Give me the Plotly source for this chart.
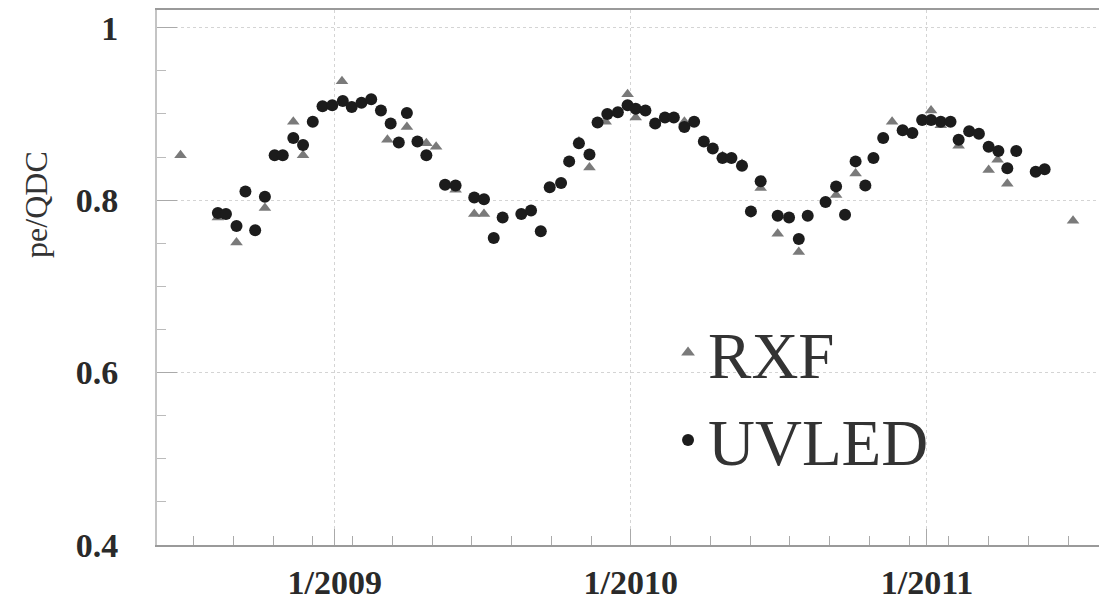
import plotly.graph_objects as go

# UVLED (black circles)
uvled_dates = [
    "2008-08-10", "2008-08-20", "2008-09-02", "2008-09-13", "2008-09-25", "2008-10-07",
    "2008-10-19", "2008-10-29", "2008-11-11", "2008-11-23", "2008-12-05", "2008-12-17",
    "2008-12-29", "2009-01-11", "2009-01-22", "2009-02-03", "2009-02-15", "2009-02-27",
    "2009-03-11", "2009-03-21", "2009-03-31", "2009-04-13", "2009-04-24", "2009-05-17",
    "2009-05-30", "2009-06-22", "2009-07-04", "2009-07-16", "2009-07-27", "2009-08-19",
    "2009-08-31", "2009-09-12", "2009-09-23", "2009-10-07", "2009-10-17", "2009-10-29",
    "2009-11-11", "2009-11-21", "2009-12-03", "2009-12-16", "2009-12-28", "2010-01-07",
    "2010-01-19", "2010-01-31", "2010-02-12", "2010-02-23", "2010-03-08", "2010-03-20",
    "2010-04-01", "2010-04-12", "2010-04-24", "2010-05-05", "2010-05-18", "2010-05-29",
    "2010-06-10", "2010-07-01", "2010-07-15", "2010-07-27", "2010-08-07", "2010-08-29",
    "2010-09-11", "2010-09-22", "2010-10-05", "2010-10-17", "2010-10-27", "2010-11-08",
    "2010-12-02", "2010-12-14", "2010-12-26", "2011-01-06", "2011-01-18", "2011-01-30",
    "2011-02-09", "2011-02-22", "2011-03-06", "2011-03-18", "2011-03-30", "2011-04-10",
    "2011-04-21", "2011-05-15", "2011-05-26",
]
uvled_values = [
    0.785, 0.784, 0.770, 0.810, 0.765, 0.804,
    0.852, 0.852, 0.872, 0.864, 0.891, 0.909,
    0.910, 0.915, 0.908, 0.913, 0.917, 0.904,
    0.889, 0.867, 0.901, 0.868, 0.852, 0.818,
    0.817, 0.803, 0.801, 0.756, 0.780, 0.784,
    0.788, 0.764, 0.815, 0.820, 0.845, 0.866,
    0.853, 0.890, 0.900, 0.902, 0.910, 0.906,
    0.904, 0.889, 0.896, 0.896, 0.885, 0.891,
    0.868, 0.860, 0.849, 0.849, 0.840, 0.787,
    0.822, 0.782, 0.780, 0.755, 0.782, 0.798,
    0.816, 0.783, 0.845, 0.817, 0.849, 0.872,
    0.881, 0.878, 0.893, 0.893, 0.891, 0.891,
    0.870, 0.880, 0.877, 0.862, 0.857, 0.837,
    0.857, 0.833, 0.836,
]

# RXF (grey triangles)
rxf_dates = [
    "2008-06-25", "2008-08-10", "2008-09-02", "2008-10-07", "2008-11-11", "2008-11-23",
    "2009-01-10", "2009-03-07", "2009-03-31", "2009-04-24", "2009-05-06", "2009-05-30",
    "2009-06-22", "2009-07-04", "2009-10-29", "2009-11-11", "2009-12-01", "2009-12-28",
    "2010-01-07", "2010-01-31", "2010-03-08", "2010-04-24", "2010-05-18", "2010-06-10",
    "2010-07-01", "2010-07-27", "2010-09-11", "2010-10-05", "2010-10-17", "2010-11-19",
    "2011-01-06", "2011-01-18", "2011-02-09", "2011-03-18", "2011-03-29", "2011-04-10",
    "2011-06-30",
]
rxf_values = [
    0.852, 0.780, 0.751, 0.791, 0.891, 0.852,
    0.938, 0.870, 0.885, 0.866, 0.862, 0.812,
    0.784, 0.784, 0.868, 0.838, 0.891, 0.923,
    0.896, 0.889, 0.891, 0.851, 0.842, 0.814,
    0.761, 0.740, 0.806, 0.831, 0.817, 0.891,
    0.904, 0.887, 0.863, 0.835, 0.847, 0.819,
    0.776,
]

x_tickvals = ["2009-01-01", "2010-01-01", "2011-01-01"]
x_ticktext = ["1/2009", "1/2010", "1/2011"]
y_tickvals = [0.4, 0.6, 0.8, 1.0]
y_ticktext = ["0.4", "0.6", "0.8", "1"]

fig = go.Figure()
fig.add_trace(go.Scatter(
    x=rxf_dates, y=rxf_values, mode="markers", name="RXF",
    marker=dict(symbol="triangle-up", size=11, color="#7a7a7a"),
))
fig.add_trace(go.Scatter(
    x=uvled_dates, y=uvled_values, mode="markers", name="UVLED",
    marker=dict(symbol="circle", size=12, color="#1c1c1c"),
))

fig.update_layout(
    width=1101, height=603,
    margin=dict(l=157, r=2, t=10, b=52),
    paper_bgcolor="white", plot_bgcolor="white",
    showlegend=True,
    legend=dict(
        x=0.5425, y=0.451, xanchor="left", yanchor="top",
        bgcolor="rgba(0,0,0,0)",
        font=dict(family="Liberation Serif", size=65, color="#333333"),
        itemsizing="constant",
    ),
    xaxis=dict(
        type="date",
        range=["2008-05-27", "2011-08-01"],
        tickmode="array", tickvals=x_tickvals, ticktext=x_ticktext,
        tickfont=dict(family="Liberation Serif", size=34, color="#2a2a2a", weight="bold"),
        ticklabelstandoff=6,
        ticks="inside", ticklen=16, tickcolor="#aaaaaa",
        showgrid=True, gridcolor="#d4d4d4", griddash="dot", gridwidth=1,
        showline=True, linecolor="#9a9a9a", linewidth=2, mirror=True,
        minor=dict(ticks="inside", ticklen=9, tickcolor="#aaaaaa",
                   dtick=49 * 86400000, tick0="2010-01-01", showgrid=False),
        zeroline=False,
    ),
    yaxis=dict(
        range=[0.4, 1.0206],
        tickmode="array", tickvals=y_tickvals, ticktext=y_ticktext,
        tickfont=dict(family="Liberation Serif", size=34, color="#2a2a2a", weight="bold"),
        ticklabelstandoff=30,
        ticks="inside", ticklen=20, tickcolor="#aaaaaa",
        showgrid=True, gridcolor="#d4d4d4", griddash="dot", gridwidth=1,
        showline=True, linecolor="#c4c4c4", linewidth=2,
        minor=dict(ticks="inside", ticklen=9, tickcolor="#bbbbbb", dtick=0.05, showgrid=False),
        zeroline=False,
    ),
    annotations=[dict(
        text="pe/QDC", textangle=-90, showarrow=False,
        xref="paper", yref="y", x=-0.128, y=0.795, xanchor="center", yanchor="middle",
        font=dict(family="Liberation Serif", size=32, color="#333333"),
    )],
)

fig.write_html("out.html", config={"displayModeBar": False},
               post_script="document.body.style.margin='0px';")
